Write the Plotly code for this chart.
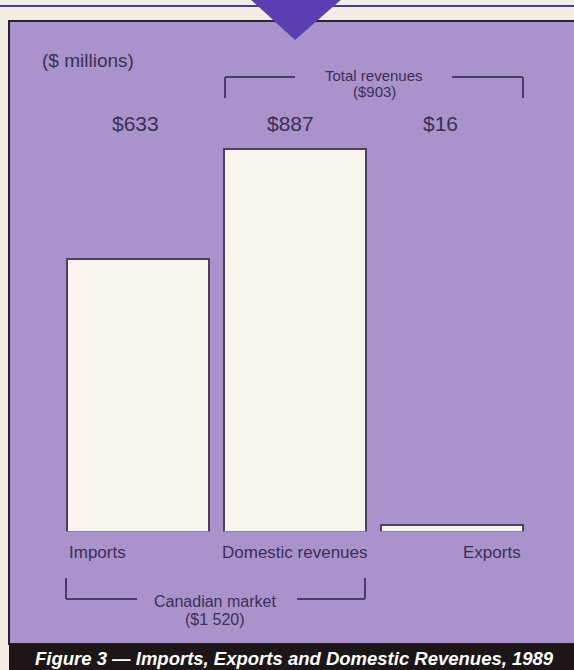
import plotly.graph_objects as go

# ---- data (millions of dollars, 1989) ----
categories = ["Imports", "Domestic revenues", "Exports"]
values = [633, 887, 16]
unit_label = "($ millions)"
title_text = "Figure 3 \u2014 Imports, Exports and Domestic Revenues, 1989"

W, H = 574, 670
FONT = "Liberation Sans, Arial, Helvetica, sans-serif"
TEXT = "#3b2f56"
LINE = "#4a3c6c"
PANEL = "#a993ca"
CREAM = "#f1ede3"


def px(x):
    return x / W


def py(y):
    return 1 - y / H


def money(v):
    # thousands separated by a space, as in "$1 520"
    return "$" + f"{v:,}".replace(",", " ")


# vertical scale: 0 sits at y=531.5px, 0.4307 px per million
base_px, top_px, px_per_unit = 531.5, 100.0, 0.4307
y_max = (base_px - top_px) / px_per_unit

# horizontal scale: 157 px between bar centres, first centre at 138 px
step, first_c = 157.0, 138.0
x_lo = -first_c / step
x_hi = (W - first_c) / step

fig = go.Figure()
fig.add_trace(go.Bar(
    x=categories,
    y=values,
    width=142 / step,
    marker=dict(color="#f8f5ec", line=dict(color="#4a4060", width=2)),
    hoverinfo="x+y",
))

shapes = []
# thin rule along the top edge
shapes.append(dict(type="line", xref="paper", yref="paper",
                   x0=0, x1=1, y0=py(6), y1=py(6),
                   line=dict(color="#4a3a94", width=2), layer="below"))
# purple panel
shapes.append(dict(type="rect", xref="paper", yref="paper",
                   x0=px(9), x1=px(W + 5), y0=py(644), y1=py(21),
                   fillcolor=PANEL, line=dict(color="#2a2234", width=2),
                   layer="below"))
# pointer triangle
shapes.append(dict(type="path", xref="paper", yref="paper",
                   path=f"M {px(249)} {py(-2)} L {px(343)} {py(-2)} L {px(295)} {py(40)} Z",
                   fillcolor="#5a3fb0", line=dict(width=0), layer="above"))
# caption band
shapes.append(dict(type="rect", xref="paper", yref="paper",
                   x0=px(9), x1=px(W + 5), y0=py(H + 5), y1=py(644),
                   fillcolor="#1c1619", line=dict(width=0), layer="above"))


def bracket(x0, x1, y_bar, y_tip, gap0, gap1):
    out = []
    out.append(dict(type="line", xref="paper", yref="paper",
                    x0=px(x0), x1=px(x0), y0=py(y_bar), y1=py(y_tip),
                    line=dict(color=LINE, width=2)))
    out.append(dict(type="line", xref="paper", yref="paper",
                    x0=px(x1), x1=px(x1), y0=py(y_bar), y1=py(y_tip),
                    line=dict(color=LINE, width=2)))
    out.append(dict(type="line", xref="paper", yref="paper",
                    x0=px(x0), x1=px(gap0), y0=py(y_bar), y1=py(y_bar),
                    line=dict(color=LINE, width=2)))
    out.append(dict(type="line", xref="paper", yref="paper",
                    x0=px(gap1), x1=px(x1), y0=py(y_bar), y1=py(y_bar),
                    line=dict(color=LINE, width=2)))
    return out


shapes += bracket(225, 523, 77, 98, 295, 452)   # total revenues
shapes += bracket(66, 365, 599, 578, 137, 297)  # Canadian market

ann = []


def label(x, y, text, size, anchor="center", color=TEXT, **kw):
    ann.append(dict(x=px(x), y=py(y), xref="paper", yref="paper", text=text,
                    showarrow=False, xanchor=anchor, yanchor="middle",
                    font=dict(family=FONT, size=size, color=color), **kw))


label(40, 60, unit_label, 19, anchor="left")

# value labels in one row above the bars
shifts = [-3, -5, -12]
for cat, v, s in zip(categories, values, shifts):
    ann.append(dict(x=cat, y=py(123), xref="x", yref="paper", text=money(v),
                    showarrow=False, xanchor="center", yanchor="middle",
                    xshift=s, font=dict(family=FONT, size=21, color=TEXT)))

# category names under the bars: left, centred, right
anchors = [("left", -71), ("center", 0), ("right", 71)]
for cat, (a, s) in zip(categories, anchors):
    ann.append(dict(x=cat, y=py(552), xref="x", yref="paper", text=cat,
                    showarrow=False, xanchor=a, yanchor="middle", xshift=s,
                    font=dict(family=FONT, size=17, color=TEXT)))

total_rev = values[1] + values[2]
canadian = values[0] + values[1]
label(374, 75, "Total revenues", 15)
label(374, 92, f"({money(total_rev)})", 15)
label(215, 601, "Canadian market", 16)
label(215, 619, f"({money(canadian)})", 16)

label(294, 658, f"<b><i>{title_text}</i></b>", 18.5, color="#ffffff")

fig.update_layout(
    width=W, height=H,
    margin=dict(l=0, r=0, t=0, b=0),
    paper_bgcolor=CREAM,
    plot_bgcolor="rgba(0,0,0,0)",
    showlegend=False,
    bargap=0,
    shapes=shapes,
    annotations=ann,
    xaxis=dict(type="category", range=[x_lo, x_hi], domain=[0, 1],
               showgrid=False, zeroline=False, showticklabels=False,
               showline=False, ticks="", fixedrange=True),
    yaxis=dict(range=[0, y_max], domain=[py(base_px), py(top_px)],
               showgrid=False, zeroline=False, showticklabels=False,
               showline=False, ticks="", fixedrange=True),
)

fig.write_html("out.html", config={"displayModeBar": False})
